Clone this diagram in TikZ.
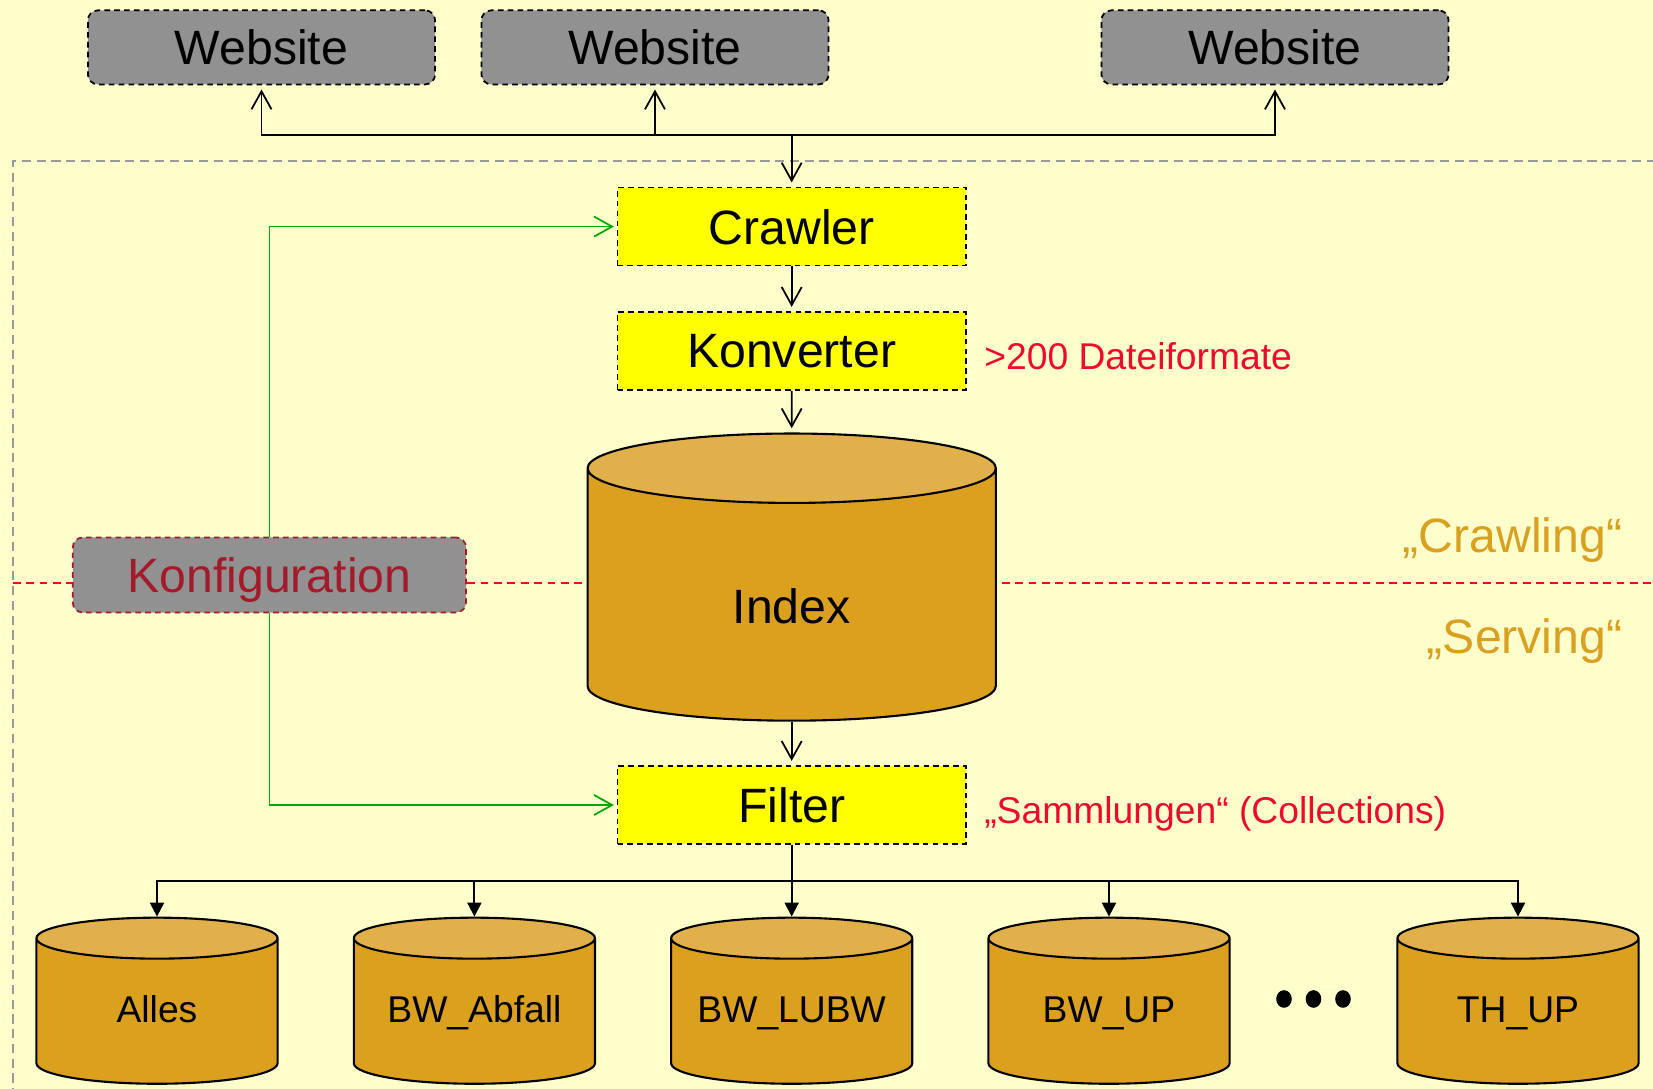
\documentclass[tikz,border=0pt]{standalone}
\usepackage{fontspec}
\setmainfont{Liberation Sans}
\usepackage{tikz}
\usetikzlibrary{arrows.meta,shapes.geometric}
\definecolor{paper}{HTML}{FFFFCC}
\definecolor{webgray}{HTML}{919191}
\definecolor{procyel}{HTML}{FFFF00}
\definecolor{gold}{HTML}{DAA01E}
\definecolor{goldtop}{HTML}{E2B04A}
\definecolor{cfgred}{HTML}{A31B2B}
\definecolor{notered}{HTML}{EE0A2D}
\definecolor{cfggreen}{HTML}{00AA00}
\definecolor{framegray}{HTML}{9A9A9A}
\definecolor{phasegold}{HTML}{D9A021}
\tikzset{
  blk/.style={draw=black, dash pattern=on 1.6pt off 1.2pt, line width=0.5pt, align=center,
              font=\fontsize{13.7}{16}\selectfont, inner sep=2pt, text depth=0pt},
  webbox/.style={blk, fill=webgray, rounded corners=1mm, minimum width=3.47cm, minimum height=0.74cm},
  procbox/.style={blk, fill=procyel, minimum width=3.48cm, minimum height=0.78cm},
  cfgbox/.style={blk, draw=cfgred, fill=webgray, text=cfgred, rounded corners=1mm,
                 minimum width=3.93cm, minimum height=0.75cm},
  db/.style={cylinder, shape border rotate=90, aspect=0.17, draw=black, line width=0.6pt, align=center,
             cylinder uses custom fill, cylinder body fill=gold, cylinder end fill=goldtop, inner sep=0pt},
  bigdb/.style={db, minimum width=4.08cm, text width=4.08cm, minimum height=2.87cm,
                text height=16pt, text depth=0pt, font=\fontsize{13.7}{16}\selectfont},
  coldb/.style={db, minimum width=2.41cm, text width=2.41cm, minimum height=1.66cm,
                text height=6.5pt, text depth=0pt, font=\fontsize{10.6}{12}\selectfont},
  arr/.style={-{Straight Barb[length=1.8mm,width=2mm]}, line width=0.5pt, draw=black, shorten >=1.2pt},
  garr/.style={arr, draw=cfggreen, shorten >=0.8pt},
  farr/.style={-{Triangle[length=1.4mm,width=1.4mm]}, line width=0.6pt, draw=black},
  note/.style={font=\fontsize{10.6}{12}\selectfont, text=notered, anchor=west, inner sep=0pt, text depth=0pt},
  phase/.style={font=\fontsize{13.7}{16}\selectfont, text=phasegold, anchor=east, inner sep=0pt, text depth=0pt},
}
\begin{document}
\begin{tikzpicture}[x=0.01cm, y=-0.01cm]
  \path[use as bounding box, fill=paper] (0,0) rectangle (1653,1089);
  \clip (0,0) rectangle (1653,1089);
  % server frame and crawling/serving split
  \draw[framegray, line width=0.6pt, dash pattern=on 2.6pt off 1.6pt] (1700,161) -- (13,161) -- (13,1120);
  \draw[notered, line width=0.6pt, dash pattern=on 2.2pt off 1.6pt] (13,583) -- (1700,583);
  \node[phase] (crawling) at (1623,535) {„Crawling“};
  \node[phase] (serving) at (1623,636) {„Serving“};

  \node[webbox] (web1) at (261.5,47.4) {Website};
  \node[webbox] (web2) at (655,47.4) {Website};
  \node[webbox] (web3) at (1275,47.4) {Website};

  \node[procbox] (crawler) at (791.7,226.6) {Crawler};
  \node[procbox] (konv) at (791.7,351) {Konverter};
  \node[bigdb] (index) at (791.7,595) {Index};
  \node[procbox] (filter) at (791.7,805) {Filter};
  \node[cfgbox] (konfig) at (269.4,575) {Konfiguration};

  \node[note] (formate) at (983.6,356) {>200 Dateiformate};
  \node[note] (samml) at (983.6,809.6) {„Sammlungen“ (Collections)};

  % collections
  \node[coldb] (alles) at (157,1011.5) {Alles};
  \node[coldb] (abfall) at (474.4,1011.5) {BW\_Abfall};
  \node[coldb] (lubw) at (791.7,1011.5) {BW\_LUBW};
  \node[coldb] (bwup) at (1109,1011.5) {BW\_UP};
  \node[coldb] (thup) at (1518,1011.5) {TH\_UP};
  \foreach \x in {1284,1313.5,1343} { \fill (\x,999) circle[x radius=7.8, y radius=8.8]; }

  % connectors
  \coordinate (bus) at (791.7,135);
  \foreach \w in {web1,web2,web3} { \draw[arr] (bus) -| (\w.south); }
  \draw[arr] (bus) -- (crawler);
  \draw[arr] (crawler) -- (konv);
  \draw[arr] (konv) -- (index.north);
  \draw[arr] (index.south) -- (filter);
  \draw[garr] (konfig.north) |- (crawler.west);
  \draw[garr] (konfig.south) |- (filter.west);
  \coordinate (fbus) at (791.7,881.3);
  \draw[line width=0.6pt] (filter) -- (fbus);
  \foreach \c in {alles,abfall,lubw,bwup,thup} { \draw[farr] (fbus) -| (\c.north); }
\end{tikzpicture}
\end{document}
